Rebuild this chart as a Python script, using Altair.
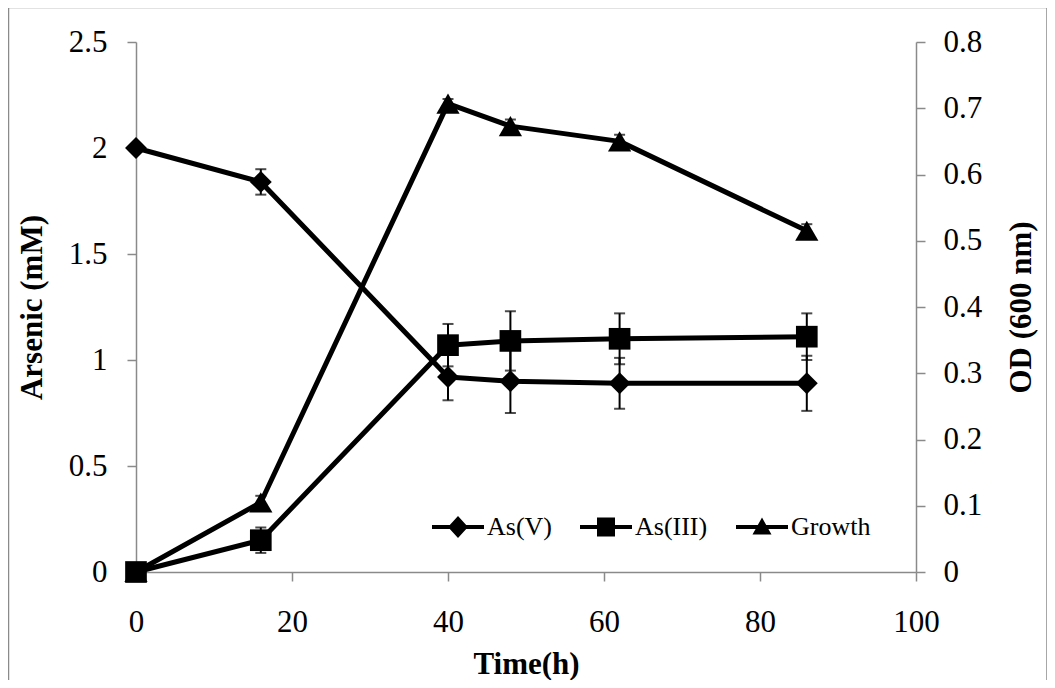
import altair as alt
import pandas as pd

# ---------------- data ----------------
time_h = [0, 16, 40, 48, 62, 86]
as_v = [2.0, 1.84, 0.92, 0.90, 0.89, 0.89]
as_v_err = [0.0, 0.06, 0.11, 0.15, 0.12, 0.13]
as_iii = [0.0, 0.15, 1.07, 1.09, 1.10, 1.11]
as_iii_err = [0.0, 0.06, 0.10, 0.14, 0.12, 0.11]
growth = [0.0, 0.105, 0.707, 0.673, 0.650, 0.515]
growth_err = [0.0, 0.01, 0.007, 0.01, 0.01, 0.01]

series_names = ["As(V)", "As(III)", "Growth"]
x_ticks = [0, 20, 40, 60, 80, 100]
left_ticks = [0, 0.5, 1, 1.5, 2, 2.5]
right_ticks = [0, 0.1, 0.2, 0.3, 0.4, 0.5, 0.6, 0.7, 0.8]

# ---------------- styles ----------------
FONT = "Liberation Serif"
GRAY = "#8a8a8a"
W, H = 780, 530
marker_shape = {"As(V)": "diamond", "As(III)": "square", "Growth": "triangle-up"}
marker_size = {"As(V)": 480, "As(III)": 470, "Growth": 540}
legend_paths = [
    "M-2.6,-0.2L-0.82,-0.2L0,-1.1L0.82,-0.2L2.6,-0.2L2.6,0.2L0.82,0.2L0,1.1L-0.82,0.2L-2.6,0.2Z",
    "M-2.6,-0.2L-0.9,-0.2L-0.9,-0.95L0.9,-0.95L0.9,-0.2L2.6,-0.2L2.6,0.2L0.9,0.2L0.9,0.95L-0.9,0.95L-0.9,0.2L-2.6,0.2Z",
    "M-2.6,-0.2L-0.42,-0.2L0,-0.95L0.42,-0.2L2.6,-0.2L2.6,0.2L0.64,0.2L0.95,0.75L-0.95,0.75L-0.64,0.2L-2.6,0.2Z",
]


def frame(name, vals, errs):
    return pd.DataFrame({
        "series": name,
        "time": time_h,
        "value": vals,
        "lo": [v - e for v, e in zip(vals, errs)],
        "hi": [v + e for v, e in zip(vals, errs)],
        "shp": marker_shape[name],
        "sz": marker_size[name],
    })


ars = pd.concat([frame("As(V)", as_v, as_v_err), frame("As(III)", as_iii, as_iii_err)],
                ignore_index=True)
grw = frame("Growth", growth, growth_err)

xs = alt.Scale(domain=[0, 100], nice=False, zero=False)
ls = alt.Scale(domain=[0, 2.5], nice=False)
rs = alt.Scale(domain=[0, 0.8], nice=False)

x_axis = alt.Axis(values=x_ticks, title="Time(h)", labelPadding=26, titlePadding=12,
                  labelFlush=False)
left_axis = alt.Axis(values=left_ticks, title="Arsenic (mM)", format="~g",
                     labelPadding=20, titlePadding=20, labelFlush=False)
right_axis = alt.Axis(values=right_ticks, title="OD (600 nm)", format="~g", orient="right",
                      labelPadding=18, titlePadding=25, titleAngle=270, titleBaseline="top",
                      labelFlush=False)

ebar = dict(color="black", ticks={"size": 11, "thickness": 2, "color": "black"},
            rule={"strokeWidth": 2, "color": "black"})

X = alt.X("time:Q", scale=xs, axis=x_axis)


def group(df, scale, axis):
    base = alt.Chart(df)
    err = base.mark_errorbar(**ebar).encode(
        x=X,
        y=alt.Y("lo:Q", scale=scale, axis=axis),
        y2="hi:Q",
    )
    line = base.mark_line(color="black", strokeWidth=5, strokeJoin="round").encode(
        x=X,
        y=alt.Y("value:Q", scale=scale, axis=axis),
        detail="series:N",
    )
    pts = base.mark_point(filled=True, color="black", opacity=1).encode(
        x=X,
        y=alt.Y("value:Q", scale=scale, axis=axis),
        shape=alt.Shape("shp:N", scale=None),
        size=alt.Size("sz:Q", scale=None),
    )
    return [err, line, pts]


legend_layer = alt.Chart(ars).transform_filter("false").mark_point(
    filled=True, color="black", opacity=1
).encode(
    x=X,
    y=alt.Y("value:Q", scale=ls, axis=left_axis),
    shape=alt.Shape(
        "series:N",
        scale=alt.Scale(domain=series_names, range=legend_paths),
        legend=alt.Legend(
            orient="none", legendX=309, legendY=472, direction="horizontal", title=None,
            symbolSize=400, symbolFillColor="black", symbolStrokeWidth=0,
            labelFont=FONT, labelFontSize=26, labelColor="black", labelOffset=16,
            columnPadding=28, padding=0, labelLimit=300,
        ),
    ),
)

border = alt.Chart(pd.DataFrame({"b": [0]})).mark_rect(
    filled=False, stroke=GRAY, strokeWidth=1.5
).encode(
    x=alt.value(-127.5), x2=alt.value(911), y=alt.value(-34.5), y2=alt.value(700)
)

left = alt.layer(*group(ars, ls, left_axis), legend_layer)
right = alt.layer(*group(grw, rs, right_axis))

chart = alt.layer(border, left, right).resolve_scale(y="independent").properties(
    width=W, height=H,
    autosize=alt.AutoSizeParams(type="none"),
    padding={"left": 128, "top": 34, "right": 131, "bottom": 108},
).configure_view(stroke=None).configure_axis(
    grid=False, domainColor=GRAY, domainWidth=1.5, tickColor=GRAY, tickWidth=1.5,
    tickSize=9, labelFont=FONT, labelFontSize=31, labelColor="black",
    titleFont=FONT, titleFontSize=31, titleFontWeight="bold", titleColor="black",
)

chart.save("out.html", embed_options={"renderer": "svg", "actions": False})
